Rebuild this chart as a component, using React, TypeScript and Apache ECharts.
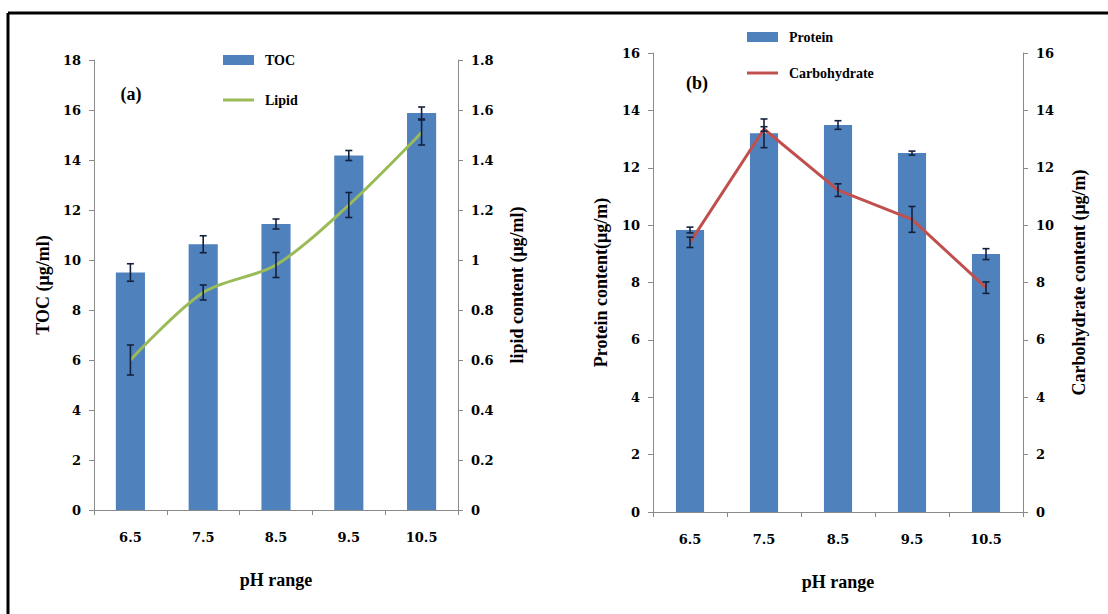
import React, { useEffect, useRef } from "react";
import * as echarts from "echarts";

const categories = ["6.5", "7.5", "8.5", "9.5", "10.5"];
const toc = [9.5, 10.63, 11.44, 14.18, 15.88];
const tocErr = [0.35, 0.34, 0.2, 0.2, 0.24];
const lipid = [0.6, 0.87, 0.98, 1.22, 1.51];
const lipidErr = [0.06, 0.03, 0.05, 0.05, 0.05];
const protein = [9.83, 13.2, 13.49, 12.51, 8.99];
const proteinErr = [0.1, 0.5, 0.15, 0.07, 0.19];
const carbohydrate = [9.4, 13.35, 11.22, 10.2, 7.82];
const carbohydrateErr = [0.18, 0.08, 0.22, 0.45, 0.2];

const FONT = "'Liberation Serif', 'Times New Roman', serif";
const TICKFONT = "'DejaVu Serif', serif";
const BLUE = "#4F81BD";
const GREEN = "#9BBB59";
const RED = "#C0504D";
const AXIS = "#8a8a8a";
const ERR = "#14213d";

const errData = (vals: number[], errs: number[]) =>
  vals.map((v, i) => [i, v - errs[i], v + errs[i]]);

const errorSeries = (xAxisIndex: number, yAxisIndex: number, vals: number[], errs: number[]) => ({
  type: "custom",
  xAxisIndex,
  yAxisIndex,
  z: 10,
  silent: true,
  data: errData(vals, errs),
  encode: { x: 0, y: [1, 2] },
  renderItem: (params: any, api: any) => {
    const x = api.value(0);
    const top = api.coord([x, api.value(2)]);
    const bot = api.coord([x, api.value(1)]);
    const w = 3.5;
    const style = { stroke: ERR, lineWidth: 1.6 };
    return {
      type: "group",
      children: [
        { type: "line", shape: { x1: top[0], y1: top[1], x2: bot[0], y2: bot[1] }, style },
        { type: "line", shape: { x1: top[0] - w, y1: top[1], x2: top[0] + w, y2: top[1] }, style },
        { type: "line", shape: { x1: bot[0] - w, y1: bot[1], x2: bot[0] + w, y2: bot[1] }, style },
      ],
    };
  },
});

const tickLabel = { fontFamily: TICKFONT, fontWeight: "bold", fontSize: 13, color: "#000", margin: 13 };
const nameStyle = { fontFamily: FONT, fontWeight: "bold", fontSize: 18, color: "#000" };

const yAxisBase = (gridIndex: number, position: string, max: number, interval: number, name: string, gap: number) => ({
  type: "value",
  gridIndex,
  position,
  min: 0,
  max,
  interval,
  name,
  nameLocation: "middle",
  nameRotate: 90,
  nameGap: gap,
  nameTextStyle: nameStyle,
  axisLine: { show: true, lineStyle: { color: AXIS, width: 1 } },
  axisTick: { show: true, length: 5, lineStyle: { color: AXIS } },
  axisLabel: tickLabel,
  splitLine: { show: false },
});

const xAxisBase = (gridIndex: number) => ({
  type: "category",
  gridIndex,
  data: categories,
  name: "pH range",
  nameLocation: "middle",
  nameGap: 61,
  nameTextStyle: nameStyle,
  axisLine: { show: true, lineStyle: { color: AXIS, width: 1 } },
  axisTick: { show: true, length: 5, interval: 0, lineStyle: { color: AXIS } },
  axisLabel: { ...tickLabel, margin: 21 },
  splitLine: { show: false },
});

const legendText = { fontFamily: FONT, fontWeight: "bold", fontSize: 14, color: "#000", padding: [0, 0, 0, 6] };

const legendItem = (name: string, left: number, top: number, h: number, color: string) => ({
  data: [{ name, icon: "rect", itemStyle: { color } }],
  left,
  top,
  itemWidth: 31,
  itemHeight: h,
  textStyle: legendText,
});

export default function App() {
  const ref = useRef<HTMLDivElement>(null);
  useEffect(() => {
    if (!ref.current) return;
    const chart = echarts.init(ref.current, undefined, { renderer: "svg" });
    chart.setOption({
      animation: false,
      backgroundColor: "#fff",
      textStyle: { fontFamily: FONT },
      grid: [
        { left: 94, right: 650, top: 60, bottom: 104 },
        { left: 653, right: 85, top: 53, bottom: 102 },
      ],
      xAxis: [xAxisBase(0), xAxisBase(1)],
      yAxis: [
        yAxisBase(0, "left", 18, 2, "TOC (μg/ml)", 42),
        yAxisBase(0, "right", 1.8, 0.2, "lipid content (μg/ml)", 50),
        yAxisBase(1, "left", 16, 2, "Protein content(μg/m)", 43),
        yAxisBase(1, "right", 16, 2, "Carbohydrate content (μg/m)", 47),
      ],
      legend: [
        legendItem("TOC", 218, 48, 10, BLUE),
        legendItem("Lipid", 218, 88, 3, GREEN),
        legendItem("Protein", 742, 25, 10, BLUE),
        legendItem("Carbohydrate", 742, 61, 3, RED),
      ],
      graphic: [
        { type: "line", shape: { x1: 8, y1: 13, x2: 1108, y2: 13 }, style: { stroke: "#000", lineWidth: 3 } },
        { type: "line", shape: { x1: 8, y1: 13, x2: 8, y2: 614 }, style: { stroke: "#000", lineWidth: 3 } },
        { type: "text", x: 131, y: 94, style: { text: "(a)", font: `bold 18px ${FONT}`, fill: "#000", align: "center", verticalAlign: "middle" } },
        { type: "text", x: 697, y: 83, style: { text: "(b)", font: `bold 18px ${FONT}`, fill: "#000", align: "center", verticalAlign: "middle" } },
      ],
      series: [
        { name: "TOC", type: "bar", xAxisIndex: 0, yAxisIndex: 0, data: toc, barWidth: "40%", itemStyle: { color: BLUE } },
        {
          name: "Lipid", type: "line", xAxisIndex: 0, yAxisIndex: 1, data: lipid, smooth: 0.3,
          symbol: "none", lineStyle: { color: GREEN, width: 3 }, itemStyle: { color: GREEN }, z: 5,
        },
        errorSeries(0, 0, toc, tocErr),
        errorSeries(0, 1, lipid, lipidErr),
        { name: "Protein", type: "bar", xAxisIndex: 1, yAxisIndex: 2, data: protein, barWidth: "38%", itemStyle: { color: BLUE } },
        {
          name: "Carbohydrate", type: "line", xAxisIndex: 1, yAxisIndex: 3, data: carbohydrate,
          symbol: "none", lineStyle: { color: RED, width: 3 }, itemStyle: { color: RED }, z: 5,
        },
        errorSeries(1, 2, protein, proteinErr),
        errorSeries(1, 3, carbohydrate, carbohydrateErr),
      ],
    });
    return () => chart.dispose();
  }, []);
  return (
    <div
      ref={ref}
      style={{ position: "absolute", left: 0, top: 0, width: 1108, height: 614, background: "#fff" }}
    />
  );
}
